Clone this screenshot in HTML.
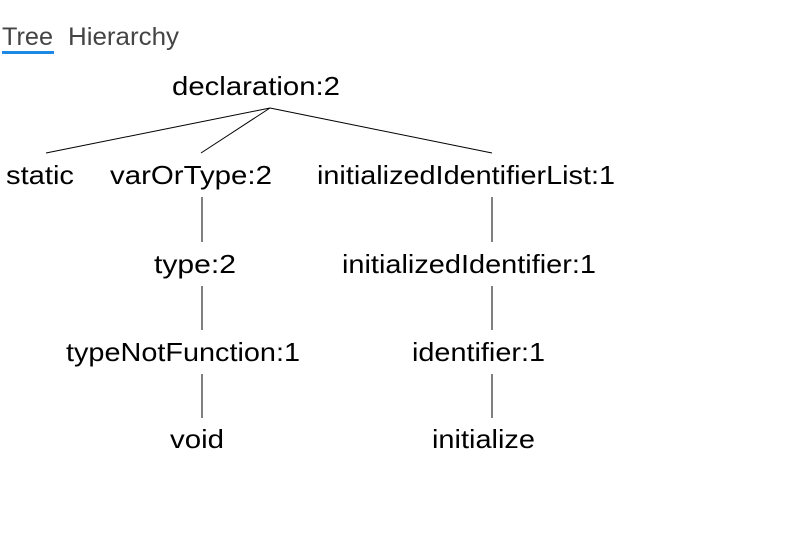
<!DOCTYPE html>
<html><head><style>
html,body{margin:0;padding:0;background:#fff;width:790px;height:542px;overflow:hidden}
svg text{font-family:"Liberation Sans",Arial,sans-serif;font-size:26px;fill:#000}
</style></head><body>
<svg width="790" height="542" xmlns="http://www.w3.org/2000/svg">
<text x="2" y="45" textLength="51" lengthAdjust="spacingAndGlyphs" style="fill:#444;font-size:25px">Tree</text>
<text x="68" y="45" textLength="111" lengthAdjust="spacingAndGlyphs" style="fill:#444;font-size:25px">Hierarchy</text>
<rect x="2" y="51" width="52" height="3" fill="#1e88e5"/>
<g stroke="#000" stroke-width="1">
<line x1="270" y1="108" x2="46" y2="153"/>
<line x1="270" y1="108" x2="201" y2="153"/>
<line x1="270" y1="108" x2="492" y2="153"/>
<line x1="202" y1="197" x2="202" y2="242"/>
<line x1="202" y1="286" x2="202" y2="330"/>
<line x1="202" y1="374" x2="202" y2="418"/>
<line x1="492" y1="197" x2="492" y2="242"/>
<line x1="492" y1="286" x2="492" y2="330"/>
<line x1="492" y1="374" x2="492" y2="418"/>
</g>
<g lengthAdjust="spacingAndGlyphs">
<text x="172" y="95" textLength="168" lengthAdjust="spacingAndGlyphs">declaration:2</text>
<text x="6" y="184" textLength="68" lengthAdjust="spacingAndGlyphs">static</text>
<text x="110" y="184" textLength="162" lengthAdjust="spacingAndGlyphs">varOrType:2</text>
<text x="317" y="184" textLength="298" lengthAdjust="spacingAndGlyphs">initializedIdentifierList:1</text>
<text x="154" y="273" textLength="82" lengthAdjust="spacingAndGlyphs">type:2</text>
<text x="342" y="273" textLength="254" lengthAdjust="spacingAndGlyphs">initializedIdentifier:1</text>
<text x="66" y="361" textLength="234" lengthAdjust="spacingAndGlyphs">typeNotFunction:1</text>
<text x="412" y="361" textLength="133" lengthAdjust="spacingAndGlyphs">identifier:1</text>
<text x="170" y="448" textLength="54" lengthAdjust="spacingAndGlyphs">void</text>
<text x="432" y="448" textLength="103" lengthAdjust="spacingAndGlyphs">initialize</text>
</g>
</svg>
</body></html>
